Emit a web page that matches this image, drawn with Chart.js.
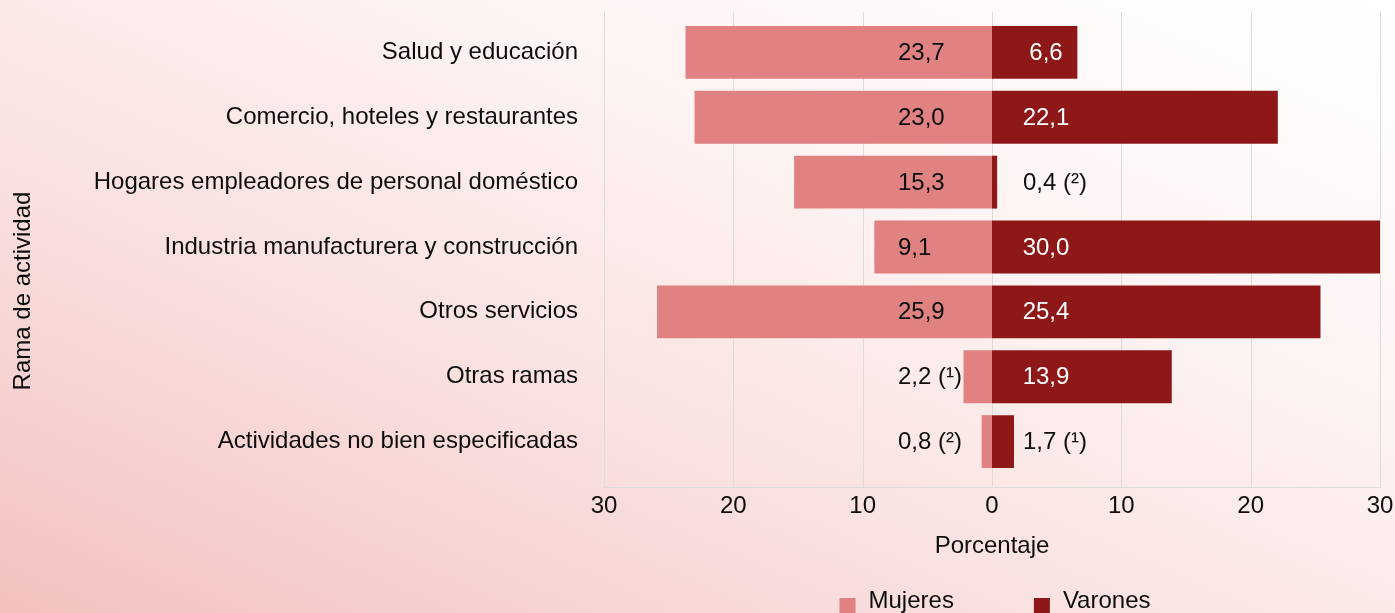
<!DOCTYPE html>
<html lang="es">
<head>
<meta charset="utf-8">
<title>Rama de actividad por sexo</title>
<script src="https://cdn.jsdelivr.net/npm/chart.js@4"></script>
<style>
  html, body {
    margin: 0;
    padding: 0;
    width: 1395px;
    height: 613px;
    overflow: hidden;
  }
  body {
    background: linear-gradient(to top right, #f3c1be 0%, #f9e0df 35%, #fdf3f2 65%, #ffffff 100%);
  }
  #chart {
    display: block;
  }
</style>
</head>
<body>
<canvas id="chart" width="1395" height="613"></canvas>
<script>
  const categories = [
    "Salud y educación",
    "Comercio, hoteles y restaurantes",
    "Hogares empleadores de personal doméstico",
    "Industria manufacturera y construcción",
    "Otros servicios",
    "Otras ramas",
    "Actividades no bien especificadas",
  ];
  const mujeres = [23.7, 23.0, 15.3, 9.1, 25.9, 2.2, 0.8];
  const varones = [6.6, 22.1, 0.4, 30.0, 25.4, 13.9, 1.7];
  // footnote marks shown after some values
  const mujeresNotas = ["", "", "", "", "", "¹", "²"];
  const varonesNotas = ["", "", "²", "", "", "", "¹"];
  const xTicks = [-30, -20, -10, 0, 10, 20, 30];

  const FONT = "'Liberation Sans', 'Helvetica Neue', Arial, sans-serif";
  const FONT_SIZE = 24;
  const TEXT = "#0d0d0d";
  const GRID = "#dcdcdc";
  const COLOR_MUJERES = "#e08282";
  const COLOR_VARONES = "#8e1818";

  function fmt(v, nota) {
    const s = v.toFixed(1).replace(".", ",");
    return nota ? s + " (" + nota + ")" : s;
  }

  // grid drawn a bit beyond the bar band, like the original
  const gridPlugin = {
    id: "extGrid",
    beforeDatasetsDraw(chart) {
      const { ctx, chartArea } = chart;
      const x = chart.scales.x;
      const top = chartArea.top - 8;
      const bottom = chartArea.bottom + 13;
      ctx.save();
      ctx.strokeStyle = GRID;
      ctx.lineWidth = 1;
      xTicks.forEach((t) => {
        const px = Math.round(x.getPixelForValue(t)) + 0.5;
        ctx.beginPath();
        ctx.moveTo(px, top);
        ctx.lineTo(px, bottom);
        ctx.stroke();
      });
      ctx.beginPath();
      ctx.moveTo(Math.round(x.getPixelForValue(xTicks[0])), bottom + 0.5);
      ctx.lineTo(Math.round(x.getPixelForValue(xTicks[xTicks.length - 1])) + 1, bottom + 0.5);
      ctx.stroke();
      ctx.restore();
    },
  };

  const valueLabelPlugin = {
    id: "valueLabel",
    afterDatasetsDraw(chart) {
      const { ctx } = chart;
      const x = chart.scales.x;
      const zero = x.getPixelForValue(0);
      ctx.save();
      ctx.font = FONT_SIZE + "px " + FONT;
      ctx.textBaseline = "middle";
      chart.getDatasetMeta(0).data.forEach((bar, i) => {
        ctx.fillStyle = TEXT;
        ctx.textAlign = "left";
        ctx.fillText(fmt(mujeres[i], mujeresNotas[i]), zero - 94, bar.y + 1);
      });
      chart.getDatasetMeta(1).data.forEach((bar, i) => {
        const label = fmt(varones[i], varonesNotas[i]);
        const inside = bar.x - zero > ctx.measureText(label).width;
        ctx.fillStyle = inside ? "#ffffff" : TEXT;
        if (varonesNotas[i]) {
          ctx.textAlign = "left";
          ctx.fillText(label, zero + 31, bar.y + 1);
        } else {
          ctx.textAlign = "center";
          ctx.fillText(label, zero + 54, bar.y + 1);
        }
      });
      ctx.restore();
    },
  };

  const extrasPlugin = {
    id: "extras",
    afterDraw(chart) {
      const { ctx, chartArea } = chart;
      ctx.save();
      ctx.font = FONT_SIZE + "px " + FONT;
      ctx.fillStyle = TEXT;
      // y axis title
      ctx.save();
      ctx.translate(23, (chartArea.top + chartArea.bottom) / 2 + 44);
      ctx.rotate(-Math.PI / 2);
      ctx.textAlign = "center";
      ctx.textBaseline = "middle";
      ctx.fillText("Rama de actividad", 0, 0);
      ctx.restore();
      // legend
      const items = chart.data.datasets.map((d) => ({
        text: d.label,
        color: d.backgroundColor,
        w: 16 + 13 + ctx.measureText(d.label).width,
      }));
      const gap = 80;
      const total = items.reduce((s, it) => s + it.w, 0) + gap * (items.length - 1);
      let lx = (chartArea.left + chartArea.right) / 2 + 3 - total / 2;
      const ty = chart.height - 12;
      ctx.textAlign = "left";
      ctx.textBaseline = "middle";
      items.forEach((it) => {
        ctx.fillStyle = it.color;
        ctx.fillRect(lx, ty - 3, 16, 16);
        ctx.fillStyle = TEXT;
        ctx.fillText(it.text, lx + 29, ty);
        lx += it.w + gap;
      });
      ctx.restore();
    },
  };

  new Chart(document.getElementById("chart"), {
    type: "bar",
    data: {
      labels: categories,
      datasets: [
        {
          label: "Mujeres",
          data: mujeres.map((v) => -v),
          backgroundColor: COLOR_MUJERES,
          barPercentage: 0.815,
          categoryPercentage: 1,
        },
        {
          label: "Varones",
          data: varones,
          backgroundColor: COLOR_VARONES,
          barPercentage: 0.815,
          categoryPercentage: 1,
        },
      ],
    },
    plugins: [gridPlugin, valueLabelPlugin, extrasPlugin],
    options: {
      indexAxis: "y",
      responsive: false,
      animation: false,
      devicePixelRatio: 1,
      layout: { padding: { top: 20, right: 15, bottom: 52, left: 0 } },
      scales: {
        x: {
          stacked: true,
          min: -30,
          max: 30,
          grid: { display: false, drawTicks: false },
          border: { display: false },
          ticks: {
            stepSize: 10,
            padding: 18,
            color: TEXT,
            font: { family: FONT, size: FONT_SIZE },
            callback: (v) => Math.abs(v),
          },
          title: {
            display: true,
            text: "Porcentaje",
            color: TEXT,
            font: { family: FONT, size: FONT_SIZE },
            padding: { top: 0, bottom: 0 },
          },
          afterFit(scale) {
            scale.height = 87;
            scale.paddingLeft = 0;
            scale.paddingRight = 0;
          },
        },
        y: {
          stacked: true,
          grid: { display: false, drawTicks: false },
          border: { display: false },
          ticks: {
            padding: 26,
            color: TEXT,
            font: { family: FONT, size: FONT_SIZE },
          },
          afterFit(scale) {
            scale.width = 604;
            scale.paddingTop = 0;
            scale.paddingBottom = 0;
          },
        },
      },
      plugins: {
        legend: { display: false },
        tooltip: { enabled: false },
      },
    },
  });
</script>
</body>
</html>
